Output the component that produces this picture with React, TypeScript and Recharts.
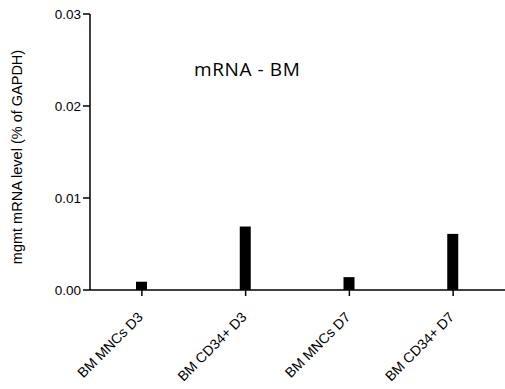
import { Bar, BarChart, XAxis, YAxis } from "recharts";

const categories = ["BM MNCs D3", "BM CD34+ D3", "BM MNCs D7", "BM CD34+ D7"];
const levels = [0.0009, 0.0069, 0.0014, 0.0061];
const yTicks = [0, 0.01, 0.02, 0.03];

const data = categories.map((name, i) => ({ name, value: levels[i] }));

const FONT = "'Liberation Sans', Arial, sans-serif";

// category labels slanted at -45deg, right end under the tick
const renderXTick = (props: any) => {
  const { x, y, payload } = props;
  const tx = x + 2;
  const ty = y + 20;
  return (
    <text
      key={payload.value}
      x={tx}
      y={ty}
      transform={`rotate(-45 ${tx} ${ty})`}
      textAnchor="end"
      fontSize={14}
      fontFamily={FONT}
      fill="#000"
    >
      {payload.value}
    </text>
  );
};

export default function App() {
  return (
    <div style={{ position: "absolute", left: 0, top: 0, width: 505, height: 389, background: "#fff" }}>
      <BarChart
        width={505}
        height={389}
        data={data}
        margin={{ top: 14, right: 0, bottom: 0, left: 0 }}
      >
        <XAxis
          dataKey="name"
          height={99}
          tick={renderXTick}
          tickLine={{ stroke: "#000", strokeWidth: 1.5 }}
          axisLine={{ stroke: "#000", strokeWidth: 1.5 }}
          tickSize={6}
          interval={0}
        />
        <YAxis
          width={90}
          domain={[0, 0.03]}
          ticks={yTicks}
          tickFormatter={(v: number) => v.toFixed(2)}
          tick={{ fill: "#000", fontSize: 13.5, fontFamily: FONT }}
          tickLine={{ stroke: "#000", strokeWidth: 1.5 }}
          axisLine={{ stroke: "#000", strokeWidth: 1.5 }}
          tickSize={7}
          label={{
            value: "mgmt mRNA level (% of GAPDH)",
            angle: -90,
            position: "insideLeft",
            dx: 12,
            dy: 5,
            style: { textAnchor: "middle", fontSize: 14.5, fontFamily: FONT, fill: "#000" },
          }}
        />
        <Bar dataKey="value" fill="#000" barSize={11} isAnimationActive={false} />
      </BarChart>
      <div
        style={{
          position: "absolute",
          left: 194,
          top: 56,
          fontFamily: "'Open Sans', sans-serif",
          fontSize: 19,
          lineHeight: "26px",
          letterSpacing: 0.6,
          color: "#000",
          whiteSpace: "nowrap",
        }}
      >
        mRNA - BM
      </div>
    </div>
  );
}
